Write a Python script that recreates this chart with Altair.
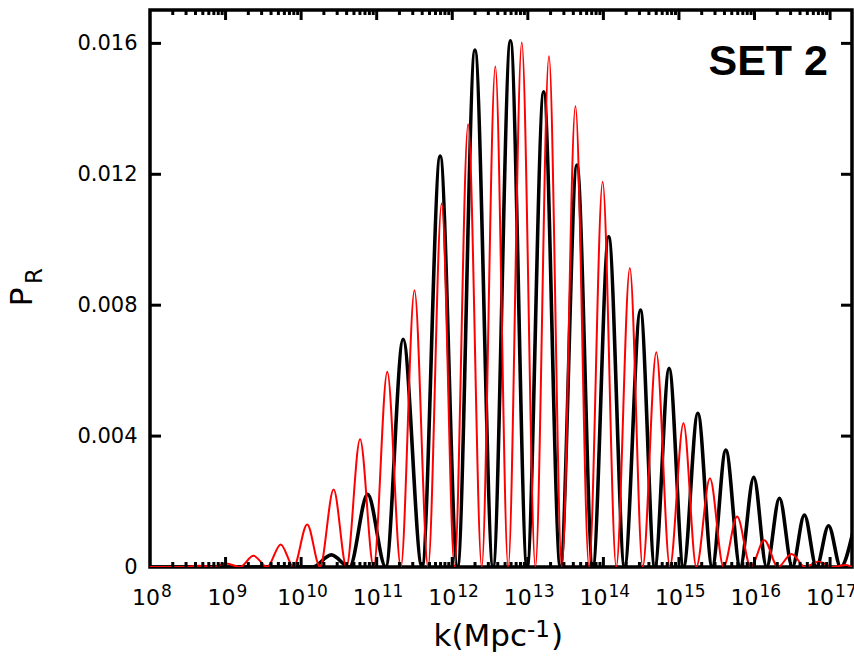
import altair as alt
import pandas as pd
import math

# ---- data (x values are log10 k) ----
black_peak_logk = [10.40, 10.88, 11.35, 11.84, 12.30, 12.77, 13.21, 13.65, 14.07,
                   14.49, 14.87, 15.25, 15.62, 15.99, 16.33, 16.66, 16.98, 17.30]
black_peak_val = [0.00037, 0.00222, 0.00696, 0.01256, 0.01580, 0.01608, 0.01452,
                  0.01228, 0.01009, 0.00785, 0.00607, 0.00470, 0.00357, 0.00274,
                  0.00210, 0.00159, 0.00126, 0.00105]
black_zero_logk = [8.0, 10.15, 10.64, 11.12, 11.60, 12.07, 12.54, 12.99, 13.43,
                   13.86, 14.28, 14.68, 15.06, 15.44, 15.81, 16.16, 16.50, 16.82, 17.14]

red_peak_logk = [8.65, 9.01, 9.37, 9.73, 10.08, 10.43, 10.78, 11.14, 11.50, 11.86,
                 12.21, 12.57, 12.92, 13.28, 13.63, 13.99, 14.35, 14.70, 15.06,
                 15.41, 15.77, 16.13, 16.49, 16.85, 17.21]
red_peak_val = [0.00004, 0.00011, 0.00034, 0.00069, 0.00130, 0.00237, 0.00390,
                0.00597, 0.00846, 0.01111, 0.01353, 0.01529, 0.01603, 0.01561,
                0.01408, 0.01177, 0.00914, 0.00656, 0.00439, 0.00271, 0.00154,
                0.00082, 0.00040, 0.00016, 0.00006]
red_zero_logk = [8.0, 8.47, 8.83, 9.19, 9.55, 9.90, 10.25, 10.60, 10.96, 11.32,
                 11.68, 12.03, 12.39, 12.74, 13.10, 13.45, 13.81, 14.17, 14.52,
                 14.88, 15.23, 15.59, 15.95, 16.31, 16.67, 17.03, 17.29]

x_decades = [8, 9, 10, 11, 12, 13, 14, 15, 16, 17]
y_ticks = [0, 0.004, 0.008, 0.012, 0.016]
y_tick_labels = ["0", "0.004", "0.008", "0.012", "0.016"]

# ---- build tables ----
def series(peaks, vals, zeros, name):
    rows = [{"logk": p, "P": v, "s": name} for p, v in zip(peaks, vals)]
    rows += [{"logk": z, "P": 0.0, "s": name} for z in zeros]
    return pd.DataFrame(rows).sort_values("logk")

black_df = series(black_peak_logk, black_peak_val, black_zero_logk, "black")
red_df = series(red_peak_logk, red_peak_val, red_zero_logk, "red")

X0, X1 = 8.0, 17.29
minor = []
for n in x_decades:
    for m in range(2, 10):
        v = n + math.log10(m)
        if v < X1:
            minor.append(v)
major_df = pd.DataFrame({"t": [d for d in x_decades if d > X0]})
minor_df = pd.DataFrame({"t": minor})
ytick_df = pd.DataFrame({"t": y_ticks[1:]})
lab1_df = pd.DataFrame({"t": [d for d in x_decades if d < 10], "e": [str(d) for d in x_decades if d < 10]})
lab2_df = pd.DataFrame({"t": [d for d in x_decades if d >= 10], "e": [str(d) for d in x_decades if d >= 10]})

W, H = 702, 557
L, T = 150, 10
xscale = alt.Scale(domain=[X0, X1], nice=False, zero=False)
yscale = alt.Scale(domain=[0, 0.01702], nice=False)

y_label_expr = ""
for v, l in zip(y_ticks, y_tick_labels):
    y_label_expr += f"abs(datum.value - {v}) < 1e-6 ? '{l}' : "
y_label_expr += "''"

FONT = "DejaVu Sans"

black_line = alt.Chart(black_df).mark_line(
    color="black", strokeWidth=3.6, interpolate="monotone", clip=True
).encode(
    x=alt.X("logk:Q", scale=xscale, axis=None),
    y=alt.Y("P:Q", scale=yscale,
            axis=alt.Axis(values=y_ticks, labelExpr=y_label_expr, ticks=False,
                          domain=False, grid=False, labelFontSize=21, labelFont=FONT,
                          labelColor="black", labelPadding=13, title=None)),
)
red_line = alt.Chart(red_df).mark_line(
    color="#ff0000", strokeWidth=2, interpolate="monotone", clip=True
).encode(x=alt.X("logk:Q", scale=xscale), y=alt.Y("P:Q", scale=yscale))

def xticks(df, y0, y1):
    return alt.Chart(df).mark_rule(color="black", strokeWidth=3).encode(
        x=alt.X("t:Q", scale=xscale), y=alt.value(y0), y2=alt.value(y1))

def yticks(x0, x1):
    return alt.Chart(ytick_df).mark_rule(color="black", strokeWidth=3).encode(
        y=alt.Y("t:Q", scale=yscale), x=alt.value(x0), x2=alt.value(x1))

ticks = [
    xticks(major_df, 0, 10), xticks(minor_df, 0, 5),
    xticks(major_df, H, H - 10), xticks(minor_df, H, H - 5),
    yticks(0, 11), yticks(W, W - 11),
]

# x tick labels: "10" plus a raised exponent
def xlabels(df, dx):
    base = alt.Chart(df).mark_text(
        font=FONT, fontSize=22, align="right", baseline="alphabetic", color="black", dx=dx
    ).encode(x=alt.X("t:Q", scale=xscale), y=alt.value(605 - T), text=alt.value("10"))
    exp = alt.Chart(df).mark_text(
        font=FONT, fontSize=17, align="left", baseline="alphabetic", color="black", dx=dx + 1
    ).encode(x=alt.X("t:Q", scale=xscale), y=alt.value(597 - T), text="e:N")
    return [base, exp]

labels = xlabels(lab1_df, 10) + xlabels(lab2_df, 4)

def txt(s, x, y, size, align="left", weight="normal", font=FONT, angle=0):
    return alt.Chart(pd.DataFrame({"t": [s]})).mark_text(
        font=font, fontSize=size, fontWeight=weight, align=align,
        baseline="alphabetic" if angle == 0 else "middle", angle=angle, color="black"
    ).encode(text="t:N", x=alt.value(x - L), y=alt.value(y - T))

xtitle = [
    txt("k(Mpc", 527, 646, 31, align="right"),
    txt("-1", 527, 637, 23),
    txt(")", 551, 646, 31),
]

pr_p = txt("P", 23, 297, 31, align="center", angle=270)
pr_r = txt("R", 35, 276, 23, align="center", angle=270)
set2 = txt("SET 2", 828, 75, 43, align="right", weight="bold", font="Liberation Sans")

chart = alt.layer(black_line, red_line, *ticks, *labels, *xtitle, pr_p, pr_r, set2).properties(
    width=W, height=H,
    autosize=alt.AutoSizeParams(type="none"),
    padding={"left": L, "top": T, "right": 2, "bottom": 89},
    background="white",
).configure_view(stroke="black", strokeWidth=3.5)

chart.save("out.html", embed_options={"renderer": "svg", "actions": False})
